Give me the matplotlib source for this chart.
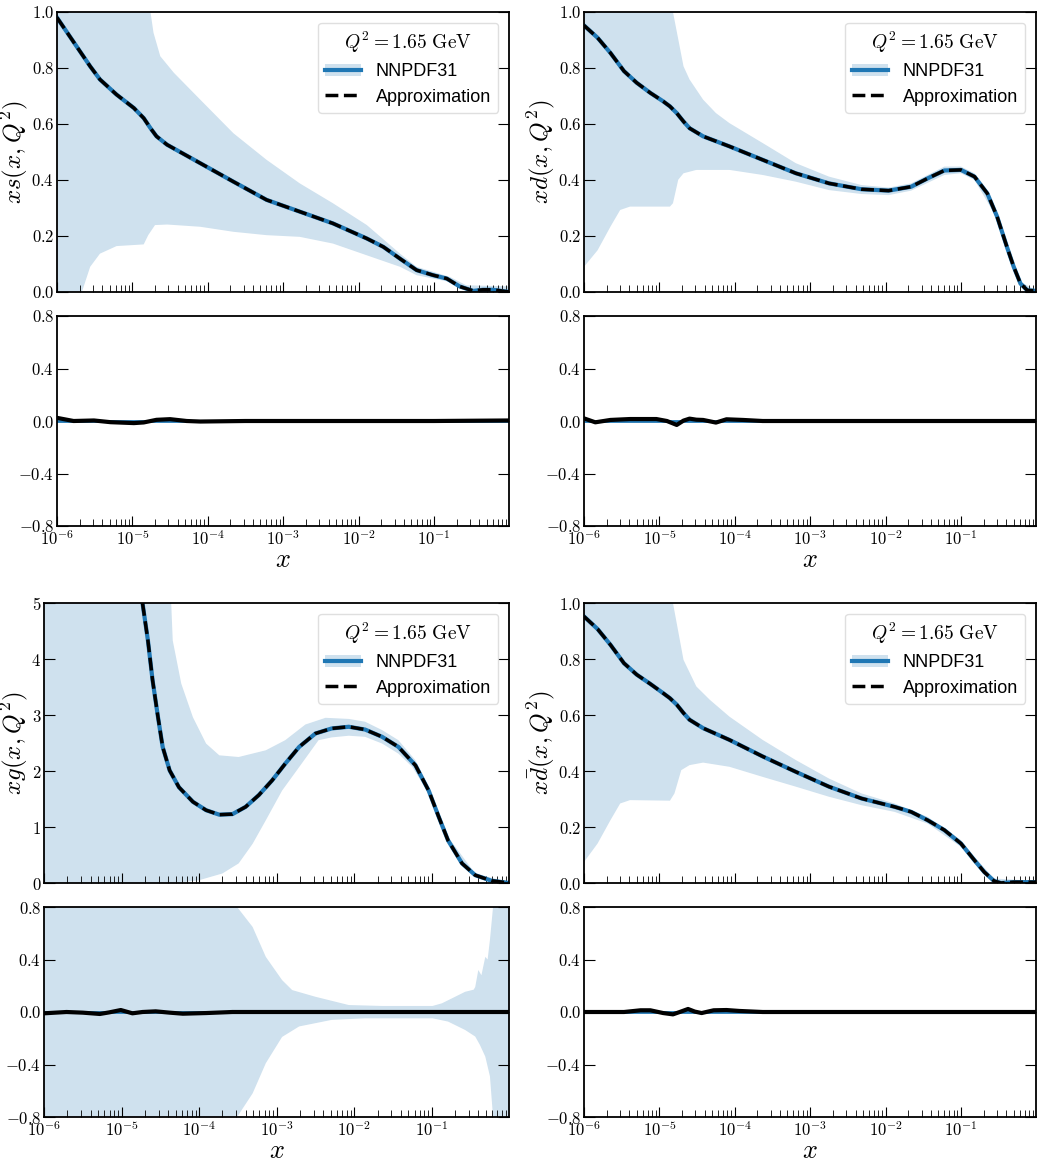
import numpy as np
import matplotlib
matplotlib.use("Agg")
import matplotlib.pyplot as plt
from matplotlib.lines import Line2D
from matplotlib.patches import Patch
from matplotlib.ticker import FixedLocator, FuncFormatter, LogLocator, NullFormatter

plt.rcParams["mathtext.fontset"] = "cm"
plt.rcParams["font.family"] = ["Liberation Sans", "DejaVu Sans"]

BLUE = "#1f77b4"
BAND = "#cfe1ee"

# ---------------- data (log10 x, value) ----------------
# x s
xs_lx = [-6.0, -5.56, -5.43, -5.21, -4.98, -4.85, -4.76, -4.68, -4.54, -4.10, -3.66, -3.22,
         -2.78, -2.34, -1.89, -1.67, -1.45, -1.23, -1.01, -0.83, -0.66, -0.48, -0.35, -0.22, 0.0]
xs_cv = [0.98, 0.806, 0.759, 0.705, 0.657, 0.621, 0.585, 0.556, 0.526, 0.46, 0.394, 0.329,
         0.287, 0.245, 0.191, 0.161, 0.119, 0.078, 0.060, 0.048, 0.020, 0.004, 0.008, 0.008, 0.0]
xs_up_lx = [-6.0, -4.80, -4.76, -4.72, -4.63, -4.45, -4.10, -3.66, -3.22, -2.78, -2.34, -1.89,
            -1.45, -1.23, -1.01, -0.79, -0.57, 0.0]
xs_up = [2.0, 2.0, 1.0, 0.926, 0.842, 0.783, 0.687, 0.567, 0.472, 0.388, 0.317, 0.239,
         0.137, 0.09, 0.072, 0.054, 0.024, 0.02]
xs_lo_lx = [-6.0, -5.70, -5.67, -5.56, -5.43, -5.21, -4.85, -4.79, -4.70, -4.54, -4.10, -3.66,
            -3.22, -2.78, -2.34, -1.89, -1.45, -1.23, -1.01, -0.79, -0.57, 0.0]
xs_lo = [-0.5, -0.5, 0.0, 0.09, 0.137, 0.164, 0.17, 0.203, 0.239, 0.241, 0.233, 0.215,
         0.203, 0.197, 0.173, 0.131, 0.09, 0.06, 0.048, 0.036, 0.006, 0.0]
xs_r_lx = [-6.0, -5.78, -5.51, -5.29, -4.98, -4.85, -4.68, -4.50, -4.28, -4.10, -3.5, -2.0, -1.0, 0.0]
xs_r = [0.024, 0.0, 0.004, -0.009, -0.016, -0.011, 0.009, 0.014, 0.0, -0.004, 0.0, 0.0, 0.0, 0.004]

# x d
xd_lx = [-6.0, -5.82, -5.65, -5.47, -5.30, -5.12, -4.95, -4.86, -4.77, -4.68, -4.60, -4.42,
         -4.07, -3.63, -3.19, -2.75, -2.32, -1.96, -1.66, -1.44, -1.22, -1.0, -0.82, -0.65,
         -0.52, -0.39, -0.30, -0.21, -0.12, 0.0]
xd_cv = [0.952, 0.908, 0.854, 0.789, 0.747, 0.711, 0.681, 0.663, 0.639, 0.609, 0.585, 0.556,
         0.520, 0.472, 0.424, 0.388, 0.367, 0.362, 0.376, 0.406, 0.434, 0.436, 0.412, 0.352,
         0.269, 0.161, 0.090, 0.030, 0.006, 0.004]
xd_up_lx = [-6.0, -4.86, -4.82, -4.68, -4.60, -4.42, -4.25, -4.07, -3.63, -3.19, -2.75, -2.32,
            -1.96, -1.66, -1.22, -1.0, -0.82, -0.56, -0.39, -0.21, 0.0]
xd_up = [2.0, 2.0, 1.0, 0.806, 0.759, 0.687, 0.639, 0.603, 0.532, 0.460, 0.412, 0.382,
         0.373, 0.388, 0.448, 0.448, 0.424, 0.305, 0.173, 0.036, 0.006]
xd_lo_lx = [-6.0, -5.82, -5.65, -5.52, -5.39, -4.86, -4.82, -4.75, -4.68, -4.51, -4.07, -3.63,
            -3.19, -2.75, -2.32, -1.96, -1.66, -1.22, -1.0, -0.82, -0.56, -0.39, -0.21, 0.0]
xd_lo = [0.09, 0.149, 0.233, 0.293, 0.305, 0.305, 0.317, 0.401, 0.424, 0.436, 0.436, 0.418,
         0.394, 0.364, 0.350, 0.346, 0.362, 0.418, 0.424, 0.400, 0.281, 0.149, 0.024, 0.0]
xd_r_lx = [-6.0, -5.85, -5.65, -5.39, -5.04, -4.90, -4.77, -4.68, -4.60, -4.51, -4.42, -4.25,
           -4.11, -3.89, -3.63, -2.0, 0.0]
xd_r = [0.02, -0.01, 0.008, 0.015, 0.015, 0.0, -0.03, 0.003, 0.018, 0.01, 0.008, -0.012,
        0.013, 0.008, 0.0, 0.0, 0.0]

# x g
xg_lx = [-6.0, -5.5, -5.0, -4.85, -4.73, -4.66, -4.60, -4.53, -4.47, -4.38, -4.26, -4.08,
         -3.91, -3.74, -3.57, -3.40, -3.23, -3.06, -2.89, -2.71, -2.50, -2.29, -2.07, -1.86,
         -1.64, -1.43, -1.21, -1.04, -0.91, -0.79, -0.61, -0.44, -0.23, 0.0]
xg_cv = [30.0, 15.0, 8.0, 6.2, 5.0, 4.33, 3.62, 2.96, 2.43, 2.01, 1.71, 1.45,
         1.30, 1.22, 1.23, 1.36, 1.57, 1.83, 2.13, 2.43, 2.67, 2.76, 2.79, 2.74,
         2.61, 2.43, 2.10, 1.65, 1.18, 0.76, 0.35, 0.14, 0.04, 0.0]
xg_up_lx = [-6.0, -4.38, -4.36, -4.34, -4.23, -4.08, -3.91, -3.74, -3.49, -3.14, -2.89, -2.63,
            -2.37, -2.07, -1.86, -1.64, -1.43, -1.21, -1.04, -0.79, -0.44, 0.0]
xg_up = [40.0, 9.0, 5.0, 4.33, 3.56, 2.96, 2.49, 2.28, 2.25, 2.37, 2.55, 2.83,
         2.95, 2.93, 2.88, 2.73, 2.55, 2.19, 1.71, 0.82, 0.17, 0.01]
xg_lo_lx = [-6.0, -4.32, -4.30, -4.0, -3.70, -3.49, -3.31, -3.14, -2.93, -2.71, -2.46, -2.29,
            -2.07, -1.86, -1.64, -1.43, -1.25, -1.04, -0.79, -0.44, 0.0]
xg_lo = [-1.0, -1.0, 0.0, 0.05, 0.17, 0.35, 0.70, 1.12, 1.65, 2.07, 2.55, 2.60,
         2.63, 2.61, 2.49, 2.31, 2.07, 1.60, 0.70, 0.11, 0.0]
xg_r_lx = [-6.0, -5.71, -5.50, -5.28, -5.16, -5.01, -4.86, -4.73, -4.56, -4.38, -4.21, -3.91,
           -3.57, -2.0, 0.0]
xg_r = [-0.01, 0.0, -0.005, -0.015, -0.003, 0.015, -0.01, 0.0, 0.005, -0.005, -0.013, -0.008,
        0.0, 0.0, 0.0]
xg_rup_lx = [-6.0, -3.55, -3.51, -3.31, -3.14, -2.93, -2.80, -2.50, -2.07, -1.64, -1.21, -0.99,
             -0.87, -0.74, -0.57, -0.46, -0.44, -0.40, -0.36, -0.31, -0.28, -0.25, -0.21, 0.0]
xg_rup = [2.0, 2.0, 0.8, 0.648, 0.42, 0.243, 0.167, 0.116, 0.053, 0.046, 0.046, 0.046,
          0.066, 0.104, 0.154, 0.17, 0.19, 0.32, 0.28, 0.42, 0.40, 0.55, 0.8, 2.0]
xg_rlo_lx = [-6.0, -3.55, -3.51, -3.31, -3.14, -2.93, -2.71, -2.29, -1.86, -1.43, -0.99, -0.79,
             -0.57, -0.44, -0.38, -0.31, -0.25, -0.21, 0.0]
xg_rlo = [-2.0, -2.0, -0.8, -0.62, -0.39, -0.19, -0.11, -0.06, -0.048, -0.048, -0.048, -0.073,
          -0.137, -0.187, -0.25, -0.34, -0.49, -0.8, -2.0]

# x dbar
xdb_lx = [-6.0, -5.82, -5.65, -5.47, -5.30, -5.12, -4.95, -4.86, -4.77, -4.68, -4.60, -4.42,
          -4.07, -3.63, -3.19, -2.75, -2.32, -1.88, -1.66, -1.44, -1.22, -1.0, -0.82, -0.69,
          -0.56, -0.47, -0.3, 0.0]
xdb_cv = [0.952, 0.907, 0.851, 0.785, 0.744, 0.711, 0.678, 0.660, 0.637, 0.607, 0.583, 0.553,
          0.511, 0.452, 0.397, 0.344, 0.302, 0.272, 0.254, 0.224, 0.189, 0.141, 0.081, 0.039,
          0.007, 0.0, 0.003, 0.003]
xdb_up_lx = [-6.0, -4.86, -4.82, -4.68, -4.51, -4.33, -4.07, -3.63, -3.19, -2.75, -2.32, -1.88,
             -1.44, -1.0, -0.82, -0.56, 0.0]
xdb_up = [2.0, 2.0, 1.0, 0.797, 0.702, 0.654, 0.594, 0.511, 0.439, 0.373, 0.320, 0.284,
          0.236, 0.153, 0.093, 0.016, 0.007]
xdb_lo_lx = [-6.0, -5.82, -5.65, -5.52, -5.39, -4.86, -4.80, -4.71, -4.60, -4.42, -4.07, -3.63,
             -3.19, -2.75, -2.32, -1.88, -1.44, -1.0, -0.82, -0.56, 0.0]
xdb_lo = [0.075, 0.141, 0.224, 0.284, 0.296, 0.294, 0.320, 0.403, 0.421, 0.430, 0.415, 0.379,
          0.344, 0.308, 0.278, 0.254, 0.212, 0.129, 0.069, 0.0, 0.0]
xdb_r_lx = [-6.0, -5.47, -5.25, -5.12, -4.95, -4.82, -4.73, -4.62, -4.53, -4.44, -4.28, -4.11,
            -3.94, -3.63, -2.0, 0.0]
xdb_r = [0.0, 0.0, 0.013, 0.013, -0.008, -0.018, 0.0, 0.023, 0.003, -0.008, 0.013, 0.015,
         0.008, 0.0, 0.0, 0.0]

panels = [
    dict(name=r"$xs(x,Q^2)$", lx=xs_lx, cv=xs_cv, up_lx=xs_up_lx, up=xs_up, lo_lx=xs_lo_lx, lo=xs_lo,
         r_lx=xs_r_lx, r=xs_r, ylim=(0, 1), yt=[0, 0.2, 0.4, 0.6, 0.8, 1.0], fmt="{:.1f}",
         main=(57, 12, 509, 292), ratio=(57, 316, 509, 526)),
    dict(name=r"$xd(x,Q^2)$", lx=xd_lx, cv=xd_cv, up_lx=xd_up_lx, up=xd_up, lo_lx=xd_lo_lx, lo=xd_lo,
         r_lx=xd_r_lx, r=xd_r, ylim=(0, 1), yt=[0, 0.2, 0.4, 0.6, 0.8, 1.0], fmt="{:.1f}",
         main=(584, 12, 1036, 292), ratio=(584, 316, 1036, 526)),
    dict(name=r"$xg(x,Q^2)$", lx=xg_lx, cv=xg_cv, up_lx=xg_up_lx, up=xg_up, lo_lx=xg_lo_lx, lo=xg_lo,
         r_lx=xg_r_lx, r=xg_r, ylim=(0, 5), yt=[0, 1, 2, 3, 4, 5], fmt="{:.0f}",
         main=(44, 603, 509, 883), ratio=(44, 907, 509, 1117),
         rband=(xg_rup_lx, xg_rup, xg_rlo_lx, xg_rlo)),
    dict(name=r"$x\bar{d}(x,Q^2)$", lx=xdb_lx, cv=xdb_cv, up_lx=xdb_up_lx, up=xdb_up, lo_lx=xdb_lo_lx,
         lo=xdb_lo, r_lx=xdb_r_lx, r=xdb_r, ylim=(0, 1), yt=[0, 0.2, 0.4, 0.6, 0.8, 1.0], fmt="{:.1f}",
         main=(584, 603, 1036, 883), ratio=(584, 907, 1036, 1117)),
]

W, H = 1041, 1162
fig = plt.figure(figsize=(W / 100, H / 100), dpi=100)


def box(l, t, r, b):
    return [l / W, 1 - b / H, (r - l) / W, (b - t) / H]


def math_fmt(f):
    return FuncFormatter(lambda v, p: "$" + f.format(v) + "$")


def style(ax):
    ax.set_xscale("log")
    ax.set_xlim(1e-6, 0.99)
    ax.xaxis.set_major_locator(LogLocator(base=10, numticks=20))
    ax.xaxis.set_minor_locator(LogLocator(base=10, subs=np.arange(2, 10), numticks=20))
    ax.xaxis.set_minor_formatter(NullFormatter())
    ax.tick_params(axis="x", which="both", direction="in", bottom=True, top=False,
                   labelsize=12, pad=2)
    ax.tick_params(axis="x", which="major", length=7)
    ax.tick_params(axis="x", which="minor", length=5)
    ax.tick_params(axis="y", which="major", direction="in", left=True, right=True, length=8,
                   labelsize=12, pad=2)
    for s in ax.spines.values():
        s.set_linewidth(1.3)


for p in panels:
    ax = fig.add_axes(box(*p["main"]))
    style(ax)
    xu = 10 ** np.array(p["up_lx"])
    xl = 10 ** np.array(p["lo_lx"])
    ax.fill(np.concatenate([xu, xl[::-1]]), np.concatenate([p["up"], p["lo"][::-1]]),
            color=BAND, lw=0)
    x = 10 ** np.array(p["lx"])
    ax.plot(x, p["cv"], color=BLUE, lw=3)
    ax.plot(x, p["cv"], color="black", lw=2.5, ls="--")
    ax.set_ylim(*p["ylim"])
    ax.yaxis.set_major_locator(FixedLocator(p["yt"]))
    ax.yaxis.set_major_formatter(math_fmt(p["fmt"]))
    ax.set_ylabel(p["name"], fontsize=18, labelpad=1)
    ax.xaxis.set_major_formatter(NullFormatter())
    handles = [(Patch(facecolor=BAND, edgecolor="none"), Line2D([], [], color=BLUE, lw=3)),
               Line2D([], [], color="black", lw=2.5, ls="--")]
    leg = ax.legend(handles, ["NNPDF31", "Approximation"], loc="upper right",
                    title=r"$Q^2 = 1.65\ \mathrm{GeV}$", fontsize=13, title_fontsize=14,
                    borderaxespad=0.6, handlelength=2.0, labelspacing=0.45, frameon=True)
    leg.get_frame().set_edgecolor("#d8d8d8")

    ar = fig.add_axes(box(*p["ratio"]))
    style(ar)
    if "rband" in p:
        rul, ru, rll, rl = p["rband"]
        ru_x = 10 ** np.array(rul)
        rl_x = 10 ** np.array(rll)
        ar.fill(np.concatenate([ru_x, rl_x[::-1]]), np.concatenate([ru, rl[::-1]]),
                color=BAND, lw=0)
    ar.plot([1e-6, 0.99], [0, 0], color=BLUE, lw=2)
    ar.plot(10 ** np.array(p["r_lx"]), p["r"], color="black", lw=3)
    ar.set_ylim(-0.8, 0.8)
    ar.yaxis.set_major_locator(FixedLocator([-0.8, -0.4, 0.0, 0.4, 0.8]))
    ar.yaxis.set_major_formatter(math_fmt("{:.1f}"))
    ar.xaxis.set_major_formatter(FuncFormatter(lambda v, q: "$10^{%d}$" % round(np.log10(v))))
    ar.set_xlabel(r"$x$", fontsize=19, labelpad=0)

fig.savefig("out.png", dpi=100)
